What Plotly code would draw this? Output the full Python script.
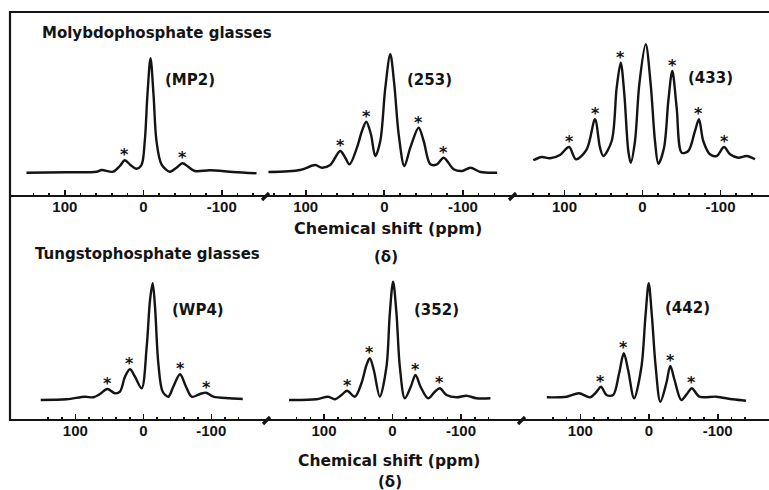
import plotly.graph_objects as go

W, H = 769, 490

# ---------------- data (chemical shift in ppm, intensity in a.u.) ----------------
mp2_ppm = [148.8, 97.8, 59.6, 53.2, 38.5, 29.9, 23.6, 16.3, 8.7, 2.3, -1.9, -5.3, -9.2, -13.0,
           -16.8, -23.2, -33.8, -42.3, -49.9, -57.1, -65.6, -84.7, -114.4, -144.2]
mp2_int = [23.3, 23.7, 24.3, 26.0, 24.3, 30.0, 35.7, 31.0, 27.3, 31.0, 55.0, 101.7, 137.7, 101.7,
           55.0, 31.7, 24.3, 28.3, 32.7, 29.3, 25.0, 25.7, 24.0, 22.7]
mp2_sb_ppm = [23.6, -49.9]
mp2_sb_int = [35.7, 32.7]

s253_ppm = [147.4, 107.0, 87.9, 79.4, 68.8, 56.1, 49.7, 44.2, 34.8, 28.4, 22.9, 17.0, 11.5, 5.1,
            -1.3, -7.6, -12.7, -18.3, -25.5, -33.1, -43.7, -50.1, -58.6, -67.1, -75.5, -88.3,
            -99.0, -109.6, -122.3, -143.6]
s253_int = [24.0, 26.0, 31.0, 28.3, 31.0, 45.0, 38.3, 31.7, 48.3, 65.0, 74.3, 61.7, 40.0, 55.0,
            108.3, 141.7, 111.7, 61.7, 30.0, 48.3, 68.3, 55.0, 31.7, 31.7, 38.3, 26.7,
            25.0, 28.3, 24.0, 23.3]
s253_sb_ppm = [56.1, 22.9, -43.7, -75.5]
s253_sb_int = [45.0, 74.3, 68.3, 38.3]

s433_ppm = [140.0, 129.2, 118.6, 105.8, 94.2, 85.3, 71.5, 60.9, 54.5, 50.3, 39.5, 33.1, 27.9, 23.3,
            18.2, 15.1, 9.6, 4.1, -4.1, -10.5, -16.0, -20.3, -27.6, -33.1, -38.2, -43.8, -50.3,
            -58.7, -67.3, -72.4, -77.9, -86.5, -95.1, -104.5, -112.2, -122.8, -133.6, -144.2]
s433_int = [35.7, 39.0, 37.7, 41.0, 49.0, 36.7, 46.7, 76.7, 48.3, 40.0, 55.0, 108.3, 133.3, 101.7,
            45.0, 33.3, 55.0, 111.7, 151.7, 111.7, 55.0, 32.3, 48.3, 95.0, 125.0, 88.3, 43.3,
            45.0, 65.0, 76.7, 55.0, 41.7, 40.0, 49.0, 41.7, 38.3, 40.0, 36.7]
s433_sb_ppm = [94.2, 60.9, 27.9, -38.2, -72.4, -104.5]
s433_sb_int = [49.0, 76.7, 133.3, 125.0, 76.7, 49.0]

wp4_ppm = [150.9, 112.6, 85.7, 73.5, 63.7, 52.9, 41.6, 34.3, 26.9, 19.6, 12.2, 2.4, -5.0, -9.9,
           -13.8, -17.2, -22.1, -28.5, -36.8, -44.1, -54.0, -62.8, -71.2, -83.4, -92.2, -102.9,
           -127.5, -146.2]
wp4_int = [20.0, 20.7, 23.3, 22.7, 26.0, 31.0, 26.7, 28.3, 43.3, 50.7, 43.3, 31.7, 73.3, 120.0,
           136.7, 113.3, 56.7, 28.3, 23.3, 33.3, 45.7, 33.3, 23.3, 26.0, 27.3, 23.3,
           21.7, 21.0]
wp4_sb_ppm = [52.9, 19.6, -54.0, -92.2]
wp4_sb_int = [31.0, 50.7, 45.7, 27.3]

s352_ppm = [151.0, 111.0, 94.0, 84.2, 74.5, 66.3, 55.0, 45.3, 38.0, 33.1, 27.3, 18.5, 8.8, 3.9,
            -0.9, -5.8, -10.7, -18.0, -26.7, -33.6, -40.9, -52.0, -61.8, -69.1, -78.8, -93.4,
            -108.0, -122.6, -143.0]
s352_int = [20.0, 20.7, 23.3, 20.7, 25.0, 29.3, 23.3, 36.7, 55.0, 61.7, 50.0, 23.3, 53.3, 106.7,
            138.3, 106.7, 53.3, 21.7, 33.3, 45.0, 33.3, 21.7, 28.3, 31.7, 25.0, 22.7,
            24.3, 21.7, 21.7]
s352_sb_ppm = [66.3, 33.1, -33.6, -69.1]
s352_sb_int = [29.3, 61.7, 45.0, 31.7]

s442_ppm = [148.7, 119.7, 101.9, 85.9, 76.2, 70.0, 61.7, 52.2, 43.5, 36.7, 30.4, 21.7, 11.0, 5.2,
            0.4, -4.3, -9.7, -16.5, -25.2, -31.0, -37.2, -47.0, -56.5, -62.3, -73.5, -97.7,
            -121.7, -141.2]
s442_int = [22.7, 23.3, 26.7, 22.7, 28.3, 33.3, 25.0, 25.0, 46.7, 66.7, 50.0, 21.7, 53.3, 103.3,
            136.7, 103.3, 53.3, 18.3, 36.7, 54.0, 40.0, 20.0, 27.3, 31.7, 23.3, 23.3,
            20.7, 19.3]
s442_sb_ppm = [70.0, 36.7, -31.0, -62.3]
s442_sb_int = [33.3, 66.7, 54.0, 31.7]

tick_vals = [100, 0, -100]
tick_text = ["100", "0", "-100"]
sample_labels = ["(MP2)", "(253)", "(433)", "(WP4)", "(352)", "(442)"]
row_titles = ["Molybdophosphate glasses", "Tungstophosphate glasses"]
axis_title = "Chemical shift (ppm)"
axis_symbol = "(δ)"

# ---------------- layout helpers (pixel geometry) ----------------
INK = "#141414"
FONT = "DejaVu Sans"


def px(x):
    return x / W


def py(y):
    return 1 - y / H


# row: (axis line pixel y, top pixel y)
rows = {0: (196, 12), 1: (420, 236)}
# panel geometry: (row, zero-ppm pixel x, px per ppm, half range)
panels = [
    (0, 143.3, 0.785, 150, mp2_ppm, mp2_int, mp2_sb_ppm, mp2_sb_int),
    (0, 384.3, 0.786, 150, s253_ppm, s253_int, s253_sb_ppm, s253_sb_int),
    (0, 642.5, 0.780, 150, s433_ppm, s433_int, s433_sb_ppm, s433_sb_int),
    (1, 143.3, 0.680, 155, wp4_ppm, wp4_int, wp4_sb_ppm, wp4_sb_int),
    (1, 392.5, 0.685, 155, s352_ppm, s352_int, s352_sb_ppm, s352_sb_int),
    (1, 649.0, 0.687, 155, s442_ppm, s442_int, s442_sb_ppm, s442_sb_int),
]

fig = go.Figure()
annotations = []
layout = {}

for i, (row, zx, sc, hr, xs, ys, sbx, sby) in enumerate(panels):
    n = i + 1
    xa = "xaxis" if n == 1 else f"xaxis{n}"
    ya = "yaxis" if n == 1 else f"yaxis{n}"
    xr = "x" if n == 1 else f"x{n}"
    yr = "y" if n == 1 else f"y{n}"
    base, top = rows[row]
    left_px = zx - hr * sc
    right_px = zx + hr * sc
    layout[xa] = dict(
        domain=[px(left_px), px(right_px)], range=[hr, -hr], anchor=yr,
        showgrid=False, zeroline=False, showline=False, fixedrange=True,
        tickmode="array", tickvals=tick_vals, ticktext=tick_text,
        ticks="inside", ticklen=6, tickwidth=1.6, tickcolor=INK,
        minor=dict(ticks="inside", dtick=20, tick0=0, ticklen=3, tickwidth=1.6, tickcolor=INK),
        tickfont=dict(family="Liberation Sans", size=15, color=INK, weight="bold"),
    )
    layout[ya] = dict(
        domain=[py(base), py(top)], range=[0, base - top], anchor=xr,
        visible=False, showgrid=False, zeroline=False, fixedrange=True,
    )
    fig.add_trace(go.Scatter(
        x=xs, y=ys, xaxis=xr, yaxis=yr, mode="lines",
        line=dict(color=INK, width=2.4, shape="spline", smoothing=0.9),
        hoverinfo="skip", showlegend=False,
    ))
    for bx, by in zip(sbx, sby):
        annotations.append(dict(
            x=bx, y=by, xref=xr, yref=yr, text="<b>*</b>", showarrow=False,
            yanchor="bottom", yshift=-6,
            font=dict(family=FONT, size=16, color=INK),
        ))

# text labels
def label(text, x, y, size=15, anchor="center"):
    annotations.append(dict(
        x=px(x), y=py(y), xref="paper", yref="paper", text=f"<b>{text}</b>",
        showarrow=False, xanchor=anchor, yanchor="middle",
        font=dict(family=FONT, size=size, color=INK),
    ))

label(row_titles[0], 40, 33, 15, "left")
label(row_titles[1], 33, 254, 15, "left")
label(sample_labels[0], 190, 80)
label(sample_labels[1], 429.5, 80)
label(sample_labels[2], 710.5, 78)
label(sample_labels[3], 197.5, 310)
label(sample_labels[4], 436, 310)
label(sample_labels[5], 687.5, 308)
label(axis_title, 387.5, 228, 16)
label(axis_symbol, 386, 257, 15)
label(axis_title, 389, 461, 15.5)
label(axis_symbol, 390, 482, 15)

# frame and axis lines with break marks
shapes = []
def seg(x0, y0, x1, y1, w=2):
    shapes.append(dict(type="line", xref="paper", yref="paper",
                       x0=px(x0), y0=py(y0), x1=px(x1), y1=py(y1),
                       line=dict(color=INK, width=w)))

seg(10, 12, 769, 12, 2)       # top frame
seg(10, 11, 10, 421, 2.2)     # left frame
seg(10, 196, 769, 196, 2)     # top row axis line
seg(10, 420, 769, 420, 2)     # bottom row axis line
for bx, by in [(266, 196), (513, 196), (267, 420), (522, 420)]:
    seg(bx - 4, by + 4, bx + 3, by - 3, 3.2)

fig.update_layout(
    width=W, height=H, margin=dict(l=0, r=0, t=0, b=0),
    paper_bgcolor="white", plot_bgcolor="rgba(0,0,0,0)",
    showlegend=False, annotations=annotations, shapes=shapes,
    hovermode=False,
    **layout,
)

fig.write_html(
    "out.html",
    config={"displayModeBar": False, "staticPlot": True},
    post_script="document.body.style.margin='0';document.body.style.overflow='hidden';",
)
